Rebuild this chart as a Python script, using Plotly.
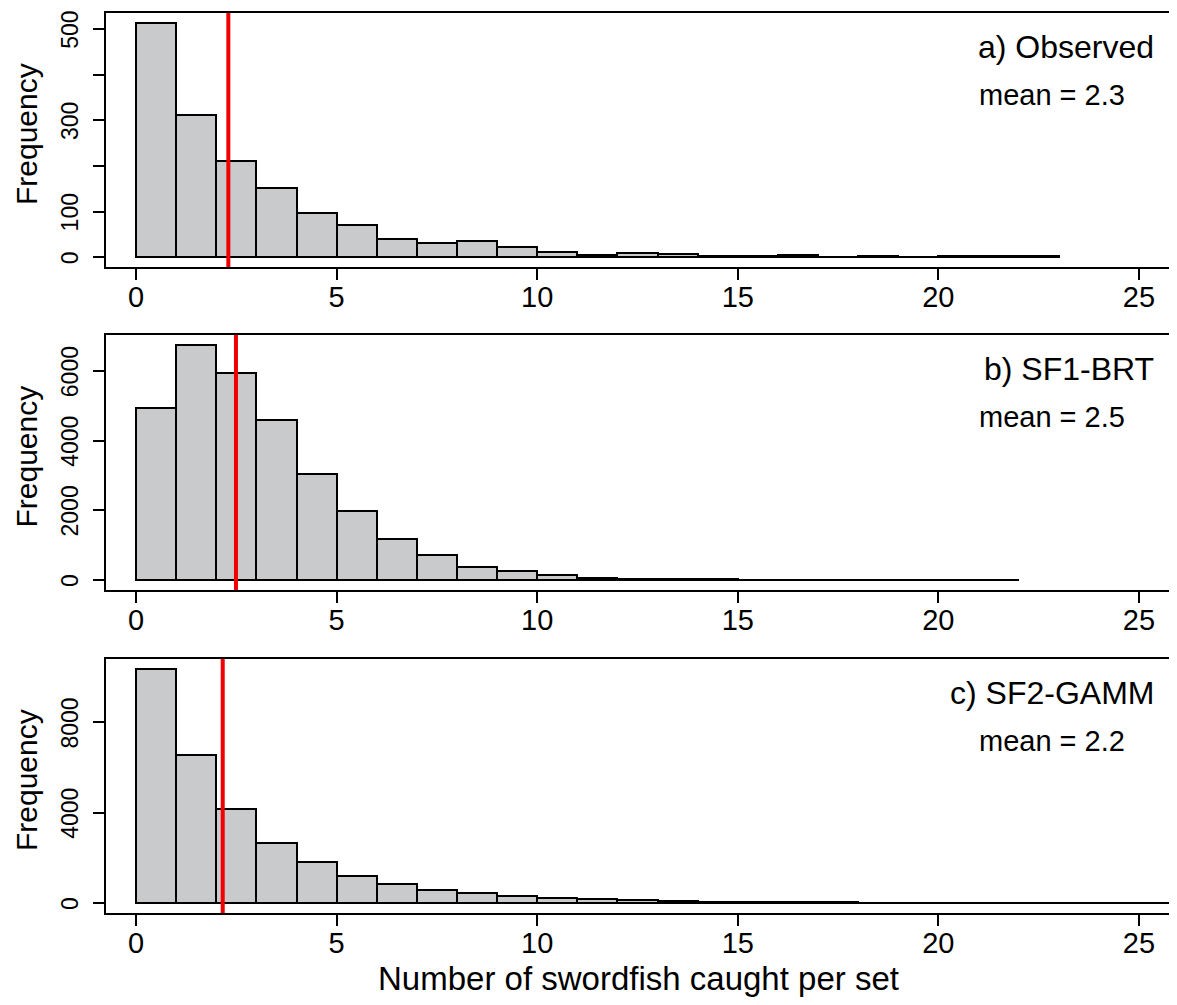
import plotly.graph_objects as go

# ---- data ----
panel_labels = ["a) Observed", "b) SF1-BRT", "c) SF2-GAMM"]
mean_labels = ["mean = 2.3", "mean = 2.5", "mean = 2.2"]
mean_values = [2.3, 2.49, 2.16]

observed_counts = [514, 312, 211, 151, 97, 70, 40, 32, 36, 22, 11, 6, 9, 7,
                   2, 2, 4, 1, 3, 1, 2, 2, 2]
sf1_brt_counts = [4929, 6747, 5934, 4594, 3043, 1972, 1170, 718, 383, 258, 144,
                  67, 38, 25, 15, 10, 6, 4, 3, 2, 1, 1]
sf2_gamm_counts = [10380, 6540, 4177, 2671, 1830, 1180, 841, 590, 457, 310, 207,
                   160, 115, 75, 60, 45, 35, 28, 20, 15, 12, 9, 7, 5, 4, 3, 2, 2]

x_tick_vals = [0, 5, 10, 15, 20, 25]
y_tick_vals = [[0, 100, 200, 300, 400, 500],
               [0, 2000, 4000, 6000],
               [0, 4000, 8000]]
y_tick_text = [["0", "100", "", "300", "", "500"],
               ["0", "2000", "4000", "6000"],
               ["0", "4000", "8000"]]
y_ranges = [[-21.2, 535], [-287, 7034], [-443, 10809]]
x_range = [-0.75, 25.9]
x_title = "Number of swordfish caught per set"
y_title = "Frequency"

# ---- layout geometry (page pixels; the html body adds an 8px margin) ----
OFF = 8
W, H = 1177 - OFF, 1005 - OFF
box_left, box_right = 106, 1175
box_tb = [(13, 267), (335, 590), (659, 913)]


def px(x):
    return (x - OFF) / W


def py(y):
    return 1 - (y - OFF) / H


FONT = "Liberation Sans, Arial, sans-serif"
fig = go.Figure()

all_counts = [observed_counts, sf1_brt_counts, sf2_gamm_counts]
shapes = []
annotations = []
for i, counts in enumerate(all_counts):
    n = i + 1
    xa = "x" if n == 1 else f"x{n}"
    ya = "y" if n == 1 else f"y{n}"
    centers = [k + 0.5 for k in range(len(counts))]
    fig.add_trace(go.Bar(
        x=centers, y=counts, width=1, xaxis=xa, yaxis=ya,
        marker=dict(color="#C9CACB", line=dict(color="black", width=2)),
        showlegend=False, hoverinfo="x+y"))
    top, bot = box_tb[i]
    axis_common = dict(showline=True, linecolor="black", linewidth=2, mirror=True,
                       ticks="outside", ticklen=11, tickwidth=2, tickcolor="black",
                       showgrid=False, zeroline=False, automargin=False,
                       ticklabeloverflow="allow")
    fig.layout[("xaxis" if n == 1 else f"xaxis{n}")] = dict(
        domain=[px(box_left), px(box_right)], range=x_range, anchor=ya,
        tickmode="array", tickvals=x_tick_vals,
        ticktext=[str(v) for v in x_tick_vals], ticklabelstandoff=-8,
        tickfont=dict(family=FONT, size=29, color="black"), **axis_common)
    fig.layout[("yaxis" if n == 1 else f"yaxis{n}")] = dict(
        domain=[py(bot), py(top)], range=y_ranges[i], anchor=xa,
        tickmode="array", tickvals=y_tick_vals[i], ticktext=y_tick_text[i],
        tickangle=-90, ticklabelstandoff=6, ticklabelshift=4,
        tickfont=dict(family=FONT, size=23, color="black"), **axis_common)
    shapes.append(dict(type="line", xref=xa, yref=f"{ya} domain",
                       x0=mean_values[i], x1=mean_values[i], y0=0, y1=1,
                       line=dict(color="#F00000", width=4), layer="above"))
    annotations.append(dict(text=panel_labels[i], xref="paper", yref="paper",
                            x=px(1156), y=py(top + 34), xanchor="right",
                            yanchor="middle", showarrow=False,
                            font=dict(family=FONT, size=32, color="black")))
    annotations.append(dict(text=mean_labels[i], xref="paper", yref="paper",
                            x=px(977), y=py(top + 82), xanchor="left",
                            yanchor="middle", showarrow=False,
                            font=dict(family=FONT, size=29, color="black")))
    annotations.append(dict(text=y_title, xref="paper", yref="paper",
                            x=px(26), y=py((top + bot) / 2 - 6),
                            xanchor="center", yanchor="middle", textangle=-90,
                            showarrow=False,
                            font=dict(family=FONT, size=30, color="black")))

annotations.append(dict(text=x_title, xref="paper", yref="paper",
                        x=px(638), y=py(978), xanchor="center", yanchor="middle",
                        showarrow=False, font=dict(family=FONT, size=33, color="black")))

fig.update_layout(width=W, height=H, margin=dict(l=0, r=0, t=0, b=0),
                  paper_bgcolor="white", plot_bgcolor="white",
                  shapes=shapes, annotations=annotations, bargap=0)
fig.write_html("out.html")
